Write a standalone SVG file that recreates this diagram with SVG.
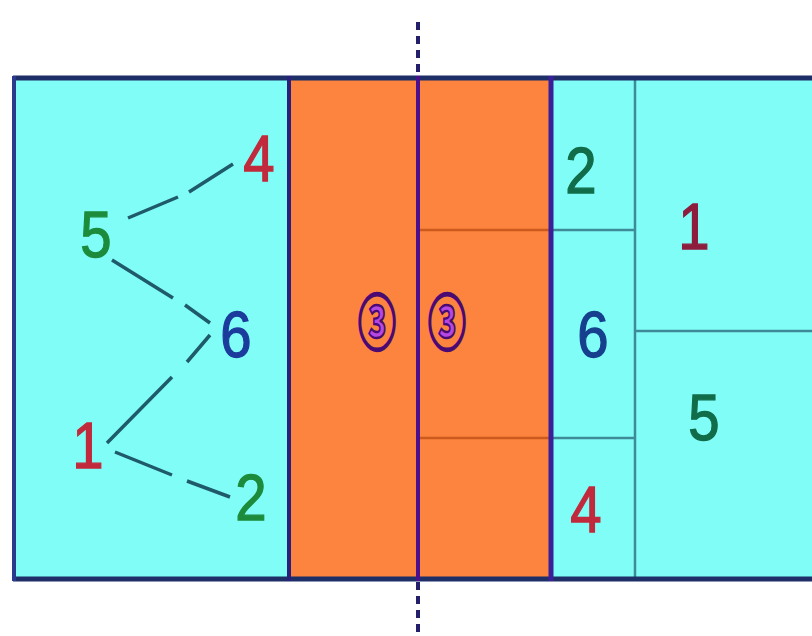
<svg xmlns="http://www.w3.org/2000/svg" width="812" height="636" viewBox="0 0 812 636">
<defs>
<style>
.d{font-family:"Liberation Sans",Arial,sans-serif;font-size:64px;text-anchor:middle;stroke-width:1.3}
.r{fill:#c12a3c;stroke:#c12a3c}.g{fill:#1c8c3c;stroke:#1c8c3c}.b{fill:#1b3c9c;stroke:#1b3c9c}
.rd{fill:#8e1c3c;stroke:#8e1c3c}.gd{fill:#116c4a;stroke:#116c4a}.bd{fill:#16408e;stroke:#16408e}
.conn{stroke:#1f5a6a;stroke-width:3.5;fill:none;stroke-linecap:butt}
.thin{stroke:#3f8a98;stroke-width:2.5}
.othin{stroke:#cc5a1e;stroke-width:2.5}
.c3{font-family:"Noto Sans CJK SC","DejaVu Sans",sans-serif;font-size:40px;font-weight:bold;text-anchor:middle;fill:#b448e0;stroke:#4a0a72;stroke-width:1.6}
</style>
</defs>
<rect width="812" height="636" fill="#ffffff"/>
<g id="court">
<rect x="13" y="77" width="810" height="503" fill="#80fdf6"/>
<rect x="289" y="77" width="262" height="503" fill="#fd843f"/>
<line class="thin" x1="635" y1="78" x2="635" y2="579"/>
<line class="thin" x1="552" y1="230" x2="635" y2="230"/>
<line class="thin" x1="552" y1="438" x2="635" y2="438"/>
<line class="thin" x1="635" y1="331" x2="812" y2="331"/>
<line class="othin" x1="420" y1="230" x2="549" y2="230"/>
<line class="othin" x1="420" y1="438" x2="549" y2="438"/>
<line x1="13" y1="78" x2="812" y2="78" stroke="#1d2f66" stroke-width="5"/>
<line x1="13" y1="579" x2="812" y2="579" stroke="#1d2f66" stroke-width="5"/>
<line x1="14" y1="76" x2="14" y2="581" stroke="#2a3a8c" stroke-width="4"/>
<line x1="289" y1="76" x2="289" y2="581" stroke="#2a1f7c" stroke-width="4"/>
<line x1="551" y1="76" x2="551" y2="581" stroke="#3a1e9a" stroke-width="5"/>
</g>
<g id="net">
<line x1="418" y1="76" x2="418" y2="581" stroke="#4a0f8e" stroke-width="4"/>
<line x1="418" y1="22" x2="418" y2="76" stroke="#241f6a" stroke-width="4" stroke-dasharray="8 6"/>
<line x1="418" y1="582" x2="418" y2="636" stroke="#241f6a" stroke-width="4" stroke-dasharray="8 6"/>
</g>
<g id="connectors">
<path class="conn" d="M128 218 L178 197 M189 192 L233 164"/>
<path class="conn" d="M112 260 L173 298 M185 305 L210 323"/>
<path class="conn" d="M210 335 L187 362 M172 377 L107 443"/>
<path class="conn" d="M115 452 L172 475 M187 481 L230 497"/>
</g>
<g id="left-4"><text class="d r" transform="translate(259,181) scale(0.88,1)">4</text></g>
<g id="left-5"><text class="d g" transform="translate(96,257) scale(0.88,1)">5</text></g>
<g id="left-6"><text class="d b" transform="translate(236,357) scale(0.88,1)">6</text></g>
<g id="left-1"><text class="d r" transform="translate(88,468) scale(0.88,1)">1</text></g>
<g id="left-2"><text class="d g" transform="translate(251,520) scale(0.88,1)">2</text></g>
<g id="setter-left"><text class="c3" transform="translate(377,345) scale(0.95,1.5)">③</text></g>
<g id="setter-right"><text class="c3" transform="translate(447,345) scale(0.95,1.5)">③</text></g>
<g id="right-2"><text class="d gd" transform="translate(581,193) scale(0.88,1)">2</text></g>
<g id="right-1"><text class="d rd" transform="translate(694,249) scale(0.88,1)">1</text></g>
<g id="right-6"><text class="d bd" transform="translate(593,357) scale(0.88,1)">6</text></g>
<g id="right-5"><text class="d gd" transform="translate(704,440) scale(0.88,1)">5</text></g>
<g id="right-4"><text class="d r" transform="translate(586,532) scale(0.88,1)">4</text></g>
</svg>
